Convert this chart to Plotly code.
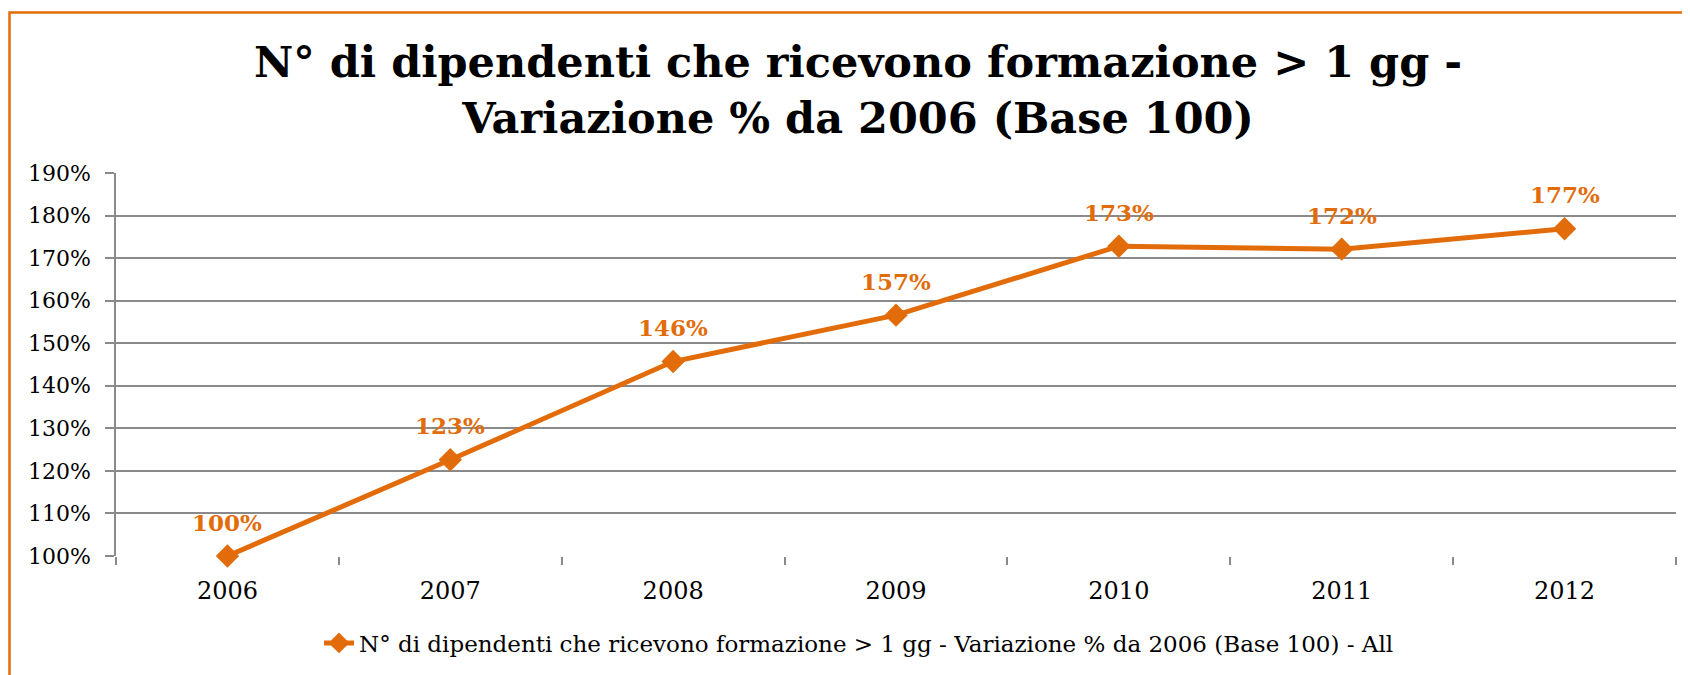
import plotly.graph_objects as go

# values
years = ['2006', '2007', '2008', '2009', '2010', '2011', '2012']
variazione = [100.0, 122.6, 145.7, 156.6, 172.8, 172.1, 176.9]
y_ticks = [100, 110, 120, 130, 140, 150, 160, 170, 180, 190]
y_tick_labels = [f'{v}%' for v in y_ticks]

series_name = 'N° di dipendenti che ricevono formazione > 1 gg - Variazione % da 2006 (Base 100) - All'
title_text = 'N° di dipendenti che ricevono formazione > 1 gg -<br>Variazione % da 2006 (Base 100)'

ORANGE = '#E36C0A'
GRID = '#8a8a8a'
# the page adds an 8px body margin, so the figure is a bit smaller than the window
W, H = 1682, 667
L, R, T, B = 108, 14, 165, 118
pw, ph = W - L - R, H - T - B

fig = go.Figure()
fig.add_trace(go.Scatter(
    x=years,
    y=variazione,
    mode='lines+markers',
    name=series_name,
    line=dict(color=ORANGE, width=5),
    marker=dict(symbol='diamond', size=18, color=ORANGE),
    cliponaxis=False,
))

# data labels above each point (x given as category index)
for i, v in enumerate(variazione):
    fig.add_annotation(
        x=i, y=v, text=f'{v:.0f}%', showarrow=False,
        yshift=34, yanchor='middle',
        font=dict(family='DejaVu Serif', size=23, color=ORANGE, weight='bold'),
    )

# orange frame (only top and left edges are visible in the source)
fig.add_shape(
    type='rect', xref='paper', yref='paper',
    x0=(1.5 - L) / pw, x1=(W + 10 - L) / pw,
    y0=-(B + 10) / ph, y1=1 + (T - 4) / ph,
    line=dict(color=ORANGE, width=2.5), layer='below',
)

fig.update_layout(
    width=W, height=H,
    margin=dict(l=L, r=R, t=T, b=B),
    paper_bgcolor='white',
    plot_bgcolor='white',
    title=dict(
        text=title_text,
        x=850 / W, xanchor='center',
        y=1 - 69 / H, yanchor='top',
        font=dict(family='DejaVu Serif', size=43, color='black', weight='bold'),
    ),
    showlegend=True,
    legend=dict(
        orientation='h',
        x=(851 - L) / pw, xanchor='center',
        y=-86 / ph, yanchor='middle',
        font=dict(family='DejaVu Serif', size=23, color='black'),
    ),
    xaxis=dict(
        type='category',
        range=[-0.5, 6.5],
        showgrid=False,
        showline=False,
        ticks='outside', tickson='boundaries', ticklen=8,
        tickcolor=GRID, tickwidth=1.5,
        ticklabelstandoff=18,
        tickfont=dict(family='DejaVu Serif', size=24, color='black'),
        zeroline=False,
    ),
    yaxis=dict(
        range=[100, 190],
        tickvals=y_ticks,
        ticktext=y_tick_labels,
        showgrid=True, gridcolor=GRID, gridwidth=1.5,
        showline=True, linecolor=GRID, linewidth=1.5,
        ticks='outside', ticklen=9, tickcolor=GRID, tickwidth=1.5,
        ticklabelstandoff=10,
        tickfont=dict(family='DejaVu Serif', size=22, color='black'),
        zeroline=False,
    ),
)

fig.write_html('out.html')
